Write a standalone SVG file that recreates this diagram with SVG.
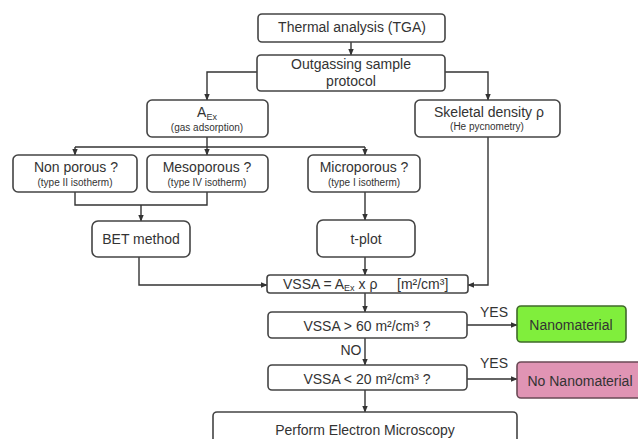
<svg xmlns="http://www.w3.org/2000/svg" width="638" height="439" viewBox="0 0 638 439">
<style>
.box{fill:#fff;stroke:#444;stroke-width:1.6}
.t{font-family:"Liberation Sans",Arial,sans-serif;font-size:14px;fill:#333;text-anchor:middle}
.l{font-family:"Liberation Sans",Arial,sans-serif;font-size:14px;fill:#333;text-anchor:start}
.s{font-family:"Liberation Sans",Arial,sans-serif;font-size:10px;fill:#333;text-anchor:middle}
.c{fill:none;stroke:#333;stroke-width:1.4}
</style>
<defs>
<marker id="a" viewBox="0 0 10 10" refX="9" refY="5" markerWidth="5" markerHeight="5" orient="auto"><path d="M0,1 L10,5 L0,9 z" fill="#333"/></marker>
</defs>
<rect width="638" height="439" fill="#fff"/>
<g id="connectors">
<path class="c" d="M351,42 V55" marker-end="url(#a)"/>
<path class="c" d="M257,72 H207 V100" marker-end="url(#a)"/>
<path class="c" d="M445,72 H488 V100" marker-end="url(#a)"/>
<path class="c" d="M207,137 V155" marker-end="url(#a)"/>
<path class="c" d="M75,147 H365"/>
<path class="c" d="M75,147 V155" marker-end="url(#a)"/>
<path class="c" d="M365,147 V155" marker-end="url(#a)"/>
<path class="c" d="M75,192 V205 H207 V192"/>
<path class="c" d="M141,205 V221" marker-end="url(#a)"/>
<path class="c" d="M365,192 V220" marker-end="url(#a)"/>
<path class="c" d="M139,257 V285 H267" marker-end="url(#a)"/>
<path class="c" d="M365,257 V275" marker-end="url(#a)"/>
<path class="c" d="M488,137 V285 H468" marker-end="url(#a)"/>
<path class="c" d="M365,293 V312" marker-end="url(#a)"/>
<path class="c" d="M467,325 H517" marker-end="url(#a)"/>
<path class="c" d="M365,338 V365" marker-end="url(#a)"/>
<path class="c" d="M467,379 H517" marker-end="url(#a)"/>
<path class="c" d="M365,390 V412" marker-end="url(#a)"/>
<text class="t" x="494" y="317">YES</text>
<text class="t" x="494" y="368">YES</text>
<text class="t" x="351" y="355">NO</text>
</g>
<g id="tga"><rect class="box" x="258" y="14" width="187" height="28" rx="4"/><text class="t" x="352" y="32">Thermal analysis (TGA)</text></g>
<g id="outgassing"><rect class="box" x="257" y="55" width="188" height="36" rx="4"/><text class="t" x="351" y="69">Outgassing sample</text><text class="t" x="351" y="86">protocol</text></g>
<g id="aex"><rect class="box" x="147" y="100" width="121" height="37" rx="5"/><text class="t" x="207" y="117">A<tspan font-size="9" dy="3">Ex</tspan></text><text class="s" x="207" y="131">(gas adsorption)</text></g>
<g id="skeletal"><rect class="box" x="415" y="100" width="145" height="37" rx="5"/><text class="t" x="489" y="117">Skeletal density ρ</text><text class="s" x="487" y="130">(He pycnometry)</text></g>
<g id="nonporous"><rect class="box" x="13" y="155" width="124" height="37" rx="5"/><text class="t" x="76" y="172">Non porous ?</text><text class="s" x="75" y="186">(type II isotherm)</text></g>
<g id="mesoporous"><rect class="box" x="147" y="155" width="121" height="37" rx="5"/><text class="t" x="207" y="172">Mesoporous ?</text><text class="s" x="207" y="186">(type IV isotherm)</text></g>
<g id="microporous"><rect class="box" x="308" y="155" width="112" height="37" rx="5"/><text class="t" x="364" y="172">Microporous ?</text><text class="s" x="364" y="186">(type I isotherm)</text></g>
<g id="bet"><rect class="box" x="92" y="221" width="98" height="36" rx="6"/><text class="t" x="141" y="244">BET method</text></g>
<g id="tplot"><rect class="box" x="317" y="220" width="98" height="37" rx="6"/><text class="t" x="366" y="244">t-plot</text></g>
<g id="vssa"><rect class="box" x="267" y="275" width="201" height="18" rx="3"/><text class="l" x="283" y="289">VSSA = A<tspan font-size="9" dy="2">Ex</tspan><tspan dy="-2"> x ρ</tspan></text><text class="l" x="397" y="289">[m²/cm³]</text></g>
<g id="gt60"><rect class="box" x="268" y="312" width="199" height="26" rx="4"/><text class="t" x="367" y="331">VSSA &gt; 60 m²/cm³ ?</text></g>
<g id="nano"><rect x="517" y="306" width="109" height="36" rx="4" fill="#80ee3c" stroke="#3f6a2a" stroke-width="1.6"/><text class="t" x="571" y="330" fill="#2a3a1a">Nanomaterial</text></g>
<g id="lt20"><rect class="box" x="268" y="365" width="199" height="25" rx="4"/><text class="t" x="367" y="384">VSSA &lt; 20 m²/cm³ ?</text></g>
<g id="nonano"><rect x="517" y="362" width="130" height="36" rx="4" fill="#e094b4" stroke="#6a4a55" stroke-width="1.6"/><text class="t" x="580" y="386" fill="#3a2a30">No Nanomaterial</text></g>
<g id="microscopy"><rect class="box" x="213" y="412" width="304" height="40" rx="4"/><text class="t" x="365" y="435">Perform Electron Microscopy</text></g>
</svg>
